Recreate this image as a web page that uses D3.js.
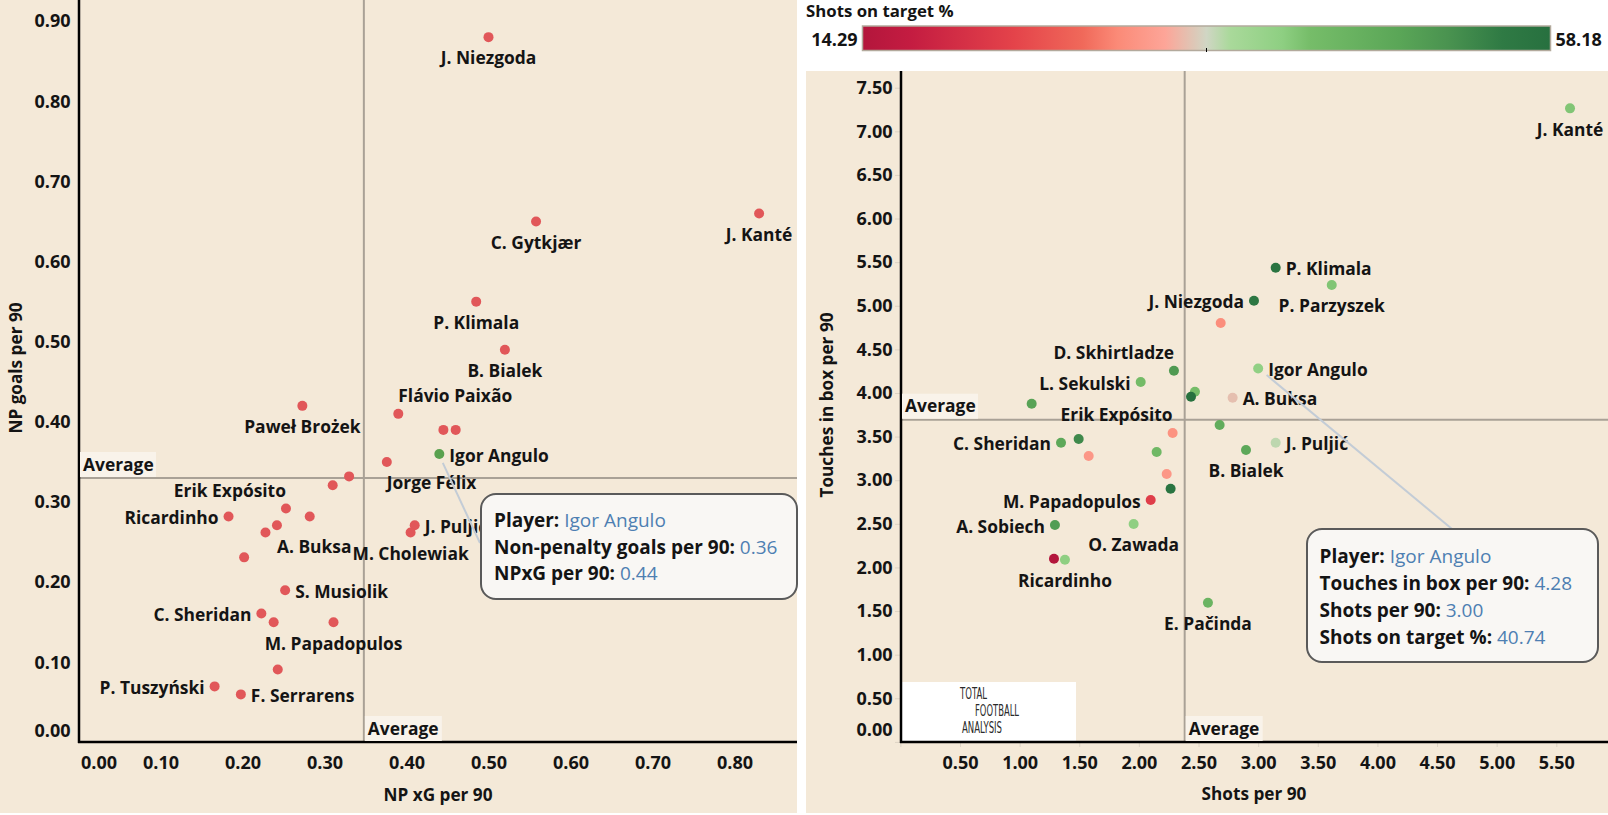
<!DOCTYPE html>
<html><head><meta charset="utf-8">
<script src="https://cdn.jsdelivr.net/npm/d3@7"></script>
<style>body{margin:0;background:#fff;} svg{display:block;}</style>
</head><body>
<svg id="chart" width="1608" height="815"></svg>
<script>
// ================= DATA =================
// Left chart: NP xG per 90 vs NP goals per 90
const leftPlayers = ["J. Niezgoda","C. Gytkjær","J. Kanté","P. Klimala","B. Bialek","Flávio Paixão","","","Igor Angulo","Jorge Félix","Paweł Brożek","","","Erik Expósito","","Ricardinho","A. Buksa","","","J. Puljić","M. Cholewiak","S. Musiolik","C. Sheridan","","M. Papadopulos","","P. Tuszyński","F. Serrarens"];
const leftXG    = [0.50,0.558,0.83,0.485,0.52,0.39,0.445,0.46,0.44,0.376,0.273,0.330,0.310,0.253,0.282,0.183,0.242,0.228,0.202,0.410,0.405,0.252,0.223,0.238,0.311,0.243,0.166,0.198];
const leftGoals = [0.88,0.65,0.66,0.55,0.49,0.41,0.39,0.39,0.36,0.35,0.42,0.332,0.321,0.292,0.282,0.282,0.271,0.262,0.231,0.271,0.262,0.19,0.161,0.15,0.15,0.091,0.07,0.06];
const leftXTicks = [0,0.1,0.2,0.3,0.4,0.5,0.6,0.7,0.8];
const leftYTicks = [0,0.1,0.2,0.3,0.4,0.5,0.6,0.7,0.8,0.9];
const leftAvgXG = 0.348, leftAvgGoals = 0.330;

// Right chart: Shots per 90 vs Touches in box per 90, coloured by Shots on target %
const rightPlayers = ["J. Kanté","P. Klimala","J. Niezgoda","","P. Parzyszek","Igor Angulo","D. Skhirtladze","L. Sekulski","","","","A. Buksa","","Erik Expósito","J. Puljić","B. Bialek","C. Sheridan","","","","","","M. Papadopulos","A. Sobiech","O. Zawada","","Ricardinho","E. Pačinda"];
const rightShots   = [5.615,3.147,2.965,2.686,3.617,3.00,2.294,2.015,2.470,2.437,1.101,2.786,2.677,2.283,3.147,2.898,1.347,1.495,1.579,2.149,2.233,2.266,2.099,1.296,1.956,1.288,1.380,2.579];
const rightTouches = [7.263,5.436,5.058,4.802,5.238,4.28,4.255,4.126,4.015,3.957,3.877,3.946,3.633,3.541,3.430,3.346,3.430,3.472,3.278,3.323,3.071,2.903,2.773,2.486,2.498,2.100,2.089,1.596];
const rightSoT     = [42,57,56,31,42,40.74,50.5,43.3,43,58,49,35,47,31.5,37,48,48,53,32,44,32,57,23,50,41,14.29,41,45];
const rightXTicks = [0.5,1,1.5,2,2.5,3,3.5,4,4.5,5,5.5];
const rightYTicks = [0,0.5,1,1.5,2,2.5,3,3.5,4,4.5,5,5.5,6,6.5,7,7.5];
const rightAvgShots = 2.384, rightAvgTouches = 3.694;
const sotMin = 14.29, sotMax = 58.18;
const highlighted = "Igor Angulo";

// label placement keywords (style only)
const leftLabelPlace = {"J. Niezgoda":"below","C. Gytkjær":"below","J. Kanté":"below","P. Klimala":"below","B. Bialek":"below",
  "Flávio Paixão":"aboveStart","Igor Angulo":"right","Jorge Félix":"belowStart","Paweł Brożek":"below","Erik Expósito":"aboveEnd",
  "Ricardinho":"left","A. Buksa":"belowStart","M. Cholewiak":"below","J. Puljić":"right","S. Musiolik":"right","C. Sheridan":"left",
  "M. Papadopulos":"below","P. Tuszyński":"left","F. Serrarens":"right"};
const rightLabelPlace = {"J. Kanté":"below","P. Klimala":"right","J. Niezgoda":"left","P. Parzyszek":"below","D. Skhirtladze":"aboveEnd",
  "L. Sekulski":"left","Igor Angulo":"right","A. Buksa":"right","Erik Expósito":"aboveEnd","J. Puljić":"right","C. Sheridan":"left",
  "B. Bialek":"below","M. Papadopulos":"left","A. Sobiech":"left","O. Zawada":"below","Ricardinho":"below","E. Pačinda":"below"};

// ================= STYLE =================
const FONT = "'Open Sans','Noto Sans',sans-serif";
const BG = "#f4e9d8";
const TXT = "#141414";
const AVG = "#a9a196";
const LBL = 17.4;
const place = {
  below:     {a:"middle", dx:0,   dy:21},
  belowStart:{a:"start",  dx:0,   dy:21},
  right:     {a:"start",  dx:10,  dy:1.5},
  left:      {a:"end",    dx:-10, dy:1.5},
  aboveEnd:  {a:"end",    dx:0,   dy:-18},
  aboveStart:{a:"start",  dx:0,   dy:-18}
};

const svg = d3.select("#chart").attr("font-family", FONT);
svg.append("rect").attr("width",1608).attr("height",815).attr("fill","#fff");
svg.append("rect").attr("x",0).attr("y",0).attr("width",797).attr("height",813).attr("fill",BG);
svg.append("rect").attr("x",806).attr("y",71).attr("width",802).attr("height",742).attr("fill",BG);

// ================= SCALES =================
const xL = d3.scaleLinear().domain([0,0.8]).range([78.5,734.5]);
const yL = d3.scaleLinear().domain([0,0.9]).range([742.5,21.1]);
const xR = d3.scaleLinear().domain([0.5,5.5]).range([960,1556.3]);
const yR = d3.scaleLinear().domain([0,7.5]).range([741.9,87.7]);

const gradStops = [[0,"#b3163c"],[0.07,"#c41c41"],[0.22,"#e4434a"],[0.32,"#f0695a"],[0.37,"#fb8a77"],[0.44,"#fda598"],
  [0.5,"#d0d6c4"],[0.535,"#a9d99a"],[0.61,"#8ecf82"],[0.65,"#76bd69"],[0.78,"#5aa657"],[0.85,"#4a9350"],[0.93,"#2f7a44"],[1,"#27703f"]];
const color = d3.scaleLinear()
  .domain(gradStops.map(s => sotMin + s[0]*(sotMax-sotMin)))
  .range(gradStops.map(s => s[1]))
  .interpolate(d3.interpolateRgb);

const fmt2 = d3.format(".2f");

// ================= LEFT CHART =================
const L = {x0:79, x1:797, y0:0, y1:742};
svg.append("line").attr("x1",xL(leftAvgXG)).attr("x2",xL(leftAvgXG)).attr("y1",L.y0).attr("y2",L.y1).attr("stroke",AVG).attr("stroke-width",2);
svg.append("line").attr("x1",L.x0).attr("x2",L.x1).attr("y1",yL(leftAvgGoals)).attr("y2",yL(leftAvgGoals)).attr("stroke",AVG).attr("stroke-width",2);

const axLY = svg.append("g").attr("transform",`translate(${L.x0},0)`)
  .call(d3.axisLeft(yL).tickValues(leftYTicks).tickSize(0).tickPadding(8.5).tickFormat(fmt2));
const axLX = svg.append("g").attr("transform",`translate(0,${L.y1})`)
  .call(d3.axisBottom(xL).tickValues(leftXTicks).tickSize(0).tickPadding(14.5).tickFormat(fmt2));
[axLY, axLX].forEach(a => { a.select(".domain").remove(); a.selectAll("text").attr("font-family",FONT).attr("font-size",18).attr("font-weight",700).attr("fill",TXT); });
axLY.selectAll(".tick").filter(d => d === 0).select("text").attr("y",-12);
axLX.selectAll(".tick").filter(d => d === 0).select("text").attr("text-anchor","start").attr("x",2);

svg.append("line").attr("x1",L.x0).attr("x2",L.x0).attr("y1",0).attr("y2",L.y1+1).attr("stroke","#000").attr("stroke-width",2.5);
svg.append("line").attr("x1",L.x0-1).attr("x2",L.x1).attr("y1",L.y1).attr("y2",L.y1).attr("stroke","#000").attr("stroke-width",2.5);

function avgLabel(x, y, w) {
  svg.append("rect").attr("x",x).attr("y",y).attr("width",w).attr("height",25).attr("fill","#f9f3ea");
  svg.append("text").attr("x",x+3).attr("y",y+12.5).attr("dy","0.36em").attr("font-size",LBL).attr("font-weight",700).attr("fill",TXT).text("Average");
}
avgLabel(L.x0+1, yL(leftAvgGoals)-26, 76);
avgLabel(xL(leftAvgXG)+1, L.y1-26, 77);

const leftData = leftPlayers.map((p,i) => ({p, x:leftXG[i], y:leftGoals[i]}));
svg.append("g").selectAll("circle").data(leftData).join("circle")
  .attr("cx",d => xL(d.x)).attr("cy",d => yL(d.y)).attr("r",5)
  .attr("fill",d => d.p === highlighted ? "#59a14f" : "#e15759");
svg.append("g").selectAll("text").data(leftData.filter(d => leftLabelPlace[d.p])).join("text")
  .each(function(d){
    const pl = place[leftLabelPlace[d.p]];
    d3.select(this).attr("x",xL(d.x)+pl.dx).attr("y",yL(d.y)+pl.dy).attr("text-anchor",pl.a);
  })
  .attr("dy","0.36em").attr("font-size",LBL).attr("font-weight",700).attr("fill",TXT).text(d => d.p);

svg.append("text").attr("x",438).attr("y",795).attr("dy","0.36em").attr("text-anchor","middle").attr("font-size",17.2).attr("font-weight",700).attr("fill",TXT).text("NP xG per 90");
svg.append("text").attr("transform","translate(16,368) rotate(-90)").attr("dy","0.36em").attr("text-anchor","middle").attr("font-size",17.2).attr("font-weight",700).attr("fill",TXT).text("NP goals per 90");

// ================= RIGHT CHART =================
const R = {x0:901, x1:1608, y0:71, y1:742};
svg.append("line").attr("x1",xR(rightAvgShots)).attr("x2",xR(rightAvgShots)).attr("y1",R.y0).attr("y2",R.y1).attr("stroke",AVG).attr("stroke-width",2);
svg.append("line").attr("x1",R.x0).attr("x2",R.x1).attr("y1",yR(rightAvgTouches)).attr("y2",yR(rightAvgTouches)).attr("stroke",AVG).attr("stroke-width",2);

const axRY = svg.append("g").attr("transform",`translate(${R.x0},0)`)
  .call(d3.axisLeft(yR).tickValues(rightYTicks).tickSize(6).tickPadding(2.5).tickFormat(fmt2));
const axRX = svg.append("g").attr("transform",`translate(0,${R.y1})`)
  .call(d3.axisBottom(xR).tickValues([0].concat(rightXTicks)).tickSize(5).tickPadding(9.5).tickFormat(d => d === 0 ? "" : fmt2(d)));
[axRY, axRX].forEach(a => { a.select(".domain").remove(); a.selectAll("line").attr("stroke","#ddd3c4");
  a.selectAll("text").attr("font-family",FONT).attr("font-size",18).attr("font-weight",700).attr("fill",TXT); });
axRY.selectAll(".tick").filter(d => d === 0).select("text").attr("y",-12);

// logo box
svg.append("rect").attr("x",902).attr("y",682).attr("width",174).attr("height",59).attr("fill","#fff");
const logoLines = [["TOTAL",960,694,27],["FOOTBALL",975,711,44],["ANALYSIS",962,728,40]];
logoLines.forEach(l => svg.append("text").attr("x",l[1]).attr("y",l[2]).attr("dy","0.36em")
  .attr("font-family","'DejaVu Sans Condensed','DejaVu Sans',sans-serif").attr("font-size",15).attr("fill","#2a2a2a")
  .attr("textLength",l[3]).attr("lengthAdjust","spacingAndGlyphs").text(l[0]));

svg.append("line").attr("x1",R.x0).attr("x2",R.x0).attr("y1",R.y0).attr("y2",R.y1+1).attr("stroke","#000").attr("stroke-width",2.5);
svg.append("line").attr("x1",R.x0-1).attr("x2",R.x1).attr("y1",R.y1).attr("y2",R.y1).attr("stroke","#000").attr("stroke-width",2.5);

avgLabel(R.x0+1, yR(rightAvgTouches)-26, 76);
avgLabel(xR(rightAvgShots)+1, R.y1-26, 77);

const rightData = rightPlayers.map((p,i) => ({p, x:rightShots[i], y:rightTouches[i], c:rightSoT[i]}));
svg.append("g").selectAll("circle").data(rightData).join("circle")
  .attr("cx",d => xR(d.x)).attr("cy",d => yR(d.y)).attr("r",5).attr("fill",d => color(d.c));
svg.append("g").selectAll("text").data(rightData.filter(d => rightLabelPlace[d.p])).join("text")
  .each(function(d){
    const pl = place[rightLabelPlace[d.p]];
    d3.select(this).attr("x",xR(d.x)+pl.dx).attr("y",yR(d.y)+pl.dy).attr("text-anchor",pl.a);
  })
  .attr("dy","0.36em").attr("font-size",LBL).attr("font-weight",700).attr("fill",TXT).text(d => d.p);

svg.append("text").attr("x",1254).attr("y",794).attr("dy","0.36em").attr("text-anchor","middle").attr("font-size",17.2).attr("font-weight",700).attr("fill",TXT).text("Shots per 90");
svg.append("text").attr("transform","translate(827,405) rotate(-90)").attr("dy","0.36em").attr("text-anchor","middle").attr("font-size",17.2).attr("font-weight",700).attr("fill",TXT).text("Touches in box per 90");

// ================= COLOUR LEGEND =================
const defs = svg.append("defs");
const grad = defs.append("linearGradient").attr("id","sotGrad").attr("x1","0%").attr("x2","100%");
gradStops.forEach(s => grad.append("stop").attr("offset",(s[0]*100)+"%").attr("stop-color",s[1]));
const legX = d3.scaleLinear().domain([sotMin,sotMax]).range([862.5,1550.5]);
svg.append("text").attr("x",806).attr("y",17).attr("font-size",16.8).attr("font-weight",700).attr("fill",TXT).text("Shots on target %");
svg.append("rect").attr("x",legX(sotMin)).attr("y",26).attr("width",legX(sotMax)-legX(sotMin)).attr("height",24.5)
  .attr("fill","url(#sotGrad)").attr("stroke","#b3aa9d").attr("stroke-width",1.5);
svg.append("line").attr("x1",legX((sotMin+sotMax)/2)).attr("x2",legX((sotMin+sotMax)/2)).attr("y1",48).attr("y2",52).attr("stroke","#000").attr("stroke-width",1);
svg.append("text").attr("x",legX(sotMin)-5).attr("y",39.5).attr("dy","0.36em").attr("text-anchor","end").attr("font-size",18).attr("font-weight",700).attr("fill",TXT).text(fmt2(sotMin));
svg.append("text").attr("x",legX(sotMax)+5).attr("y",39.5).attr("dy","0.36em").attr("text-anchor","start").attr("font-size",18).attr("font-weight",700).attr("fill",TXT).text(fmt2(sotMax));

// ================= TOOLTIPS =================
function tooltip(box, tx, ty0, step, lines, lead) {
  svg.append("line").attr("x1",lead[0]).attr("y1",lead[1]).attr("x2",lead[2]).attr("y2",lead[3]).attr("stroke","#c3ccd6").attr("stroke-width",2);
  const g = svg.append("g");
  g.append("rect").attr("x",box[0]).attr("y",box[1]).attr("width",box[2]).attr("height",box[3]).attr("rx",15)
    .attr("fill","#f9f7f4").attr("stroke","#5a5a5a").attr("stroke-width",2);
  lines.forEach((l,i) => {
    const t = g.append("text").attr("x",tx).attr("y",ty0+i*step).attr("dy","0.36em").attr("font-size",19);
    t.append("tspan").attr("font-weight",700).attr("fill",TXT).text(l[0]+": ");
    t.append("tspan").attr("font-weight",400).attr("fill","#4e7fb2").text(l[1]);
  });
}
const iL = leftData.find(d => d.p === highlighted);
tooltip([481,494,316,105], 494, 520, 26.7,
  [["Player", iL.p],["Non-penalty goals per 90", fmt2(iL.y)],["NPxG per 90", fmt2(iL.x)]],
  [xL(iL.x)+3.5, yL(iL.y)+9, 480, 543]);
const iR = rightData.find(d => d.p === highlighted);
tooltip([1307,529,291,133], 1319.5, 556, 27,
  [["Player", iR.p],["Touches in box per 90", fmt2(iR.y)],["Shots per 90", fmt2(iR.x)],["Shots on target %", fmt2(iR.c)]],
  [xR(iR.x)+8.5, yR(iR.y)+6.5, 1452, 529]);
</script>
</body></html>
